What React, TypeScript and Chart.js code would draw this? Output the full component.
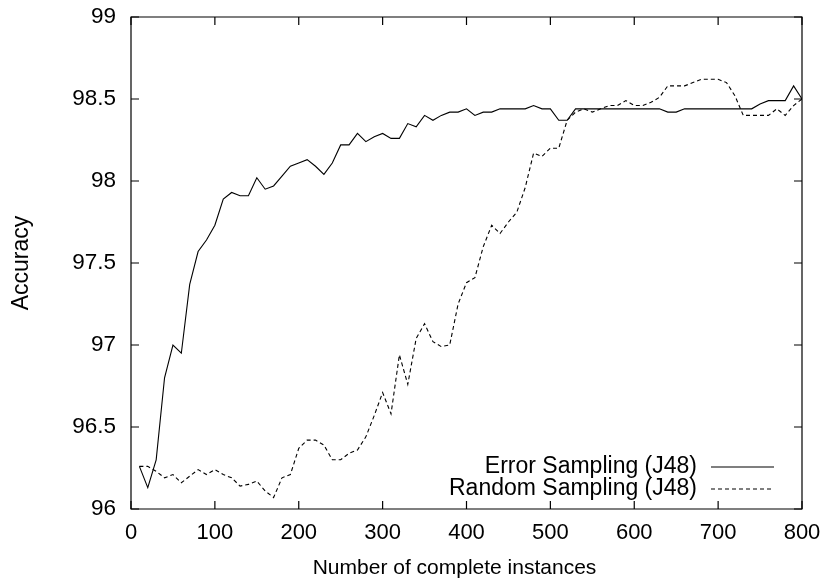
import React, { useEffect, useRef } from "react";
import { Chart, registerables } from "chart.js";

Chart.register(...registerables);

const instances = [
  10, 20, 30, 40, 50, 60, 70, 80, 90, 100,
  110, 120, 130, 140, 150, 160, 170, 180, 190, 200,
  210, 220, 230, 240, 250, 260, 270, 280, 290, 300,
  310, 320, 330, 340, 350, 360, 370, 380, 390, 400,
  410, 420, 430, 440, 450, 460, 470, 480, 490, 500,
  510, 520, 530, 540, 550, 560, 570, 580, 590, 600,
  610, 620, 630, 640, 650, 660, 670, 680, 690, 700,
  710, 720, 730, 740, 750, 760, 770, 780, 790, 800,
];

const errorSampling = [
  96.26, 96.13, 96.30, 96.80, 97.00, 96.95, 97.37, 97.57, 97.64, 97.73,
  97.89, 97.93, 97.91, 97.91, 98.02, 97.95, 97.97, 98.03, 98.09, 98.11,
  98.13, 98.09, 98.04, 98.11, 98.22, 98.22, 98.29, 98.24, 98.27, 98.29,
  98.26, 98.26, 98.35, 98.33, 98.40, 98.37, 98.40, 98.42, 98.42, 98.44,
  98.40, 98.42, 98.42, 98.44, 98.44, 98.44, 98.44, 98.46, 98.44, 98.44,
  98.37, 98.37, 98.44, 98.44, 98.44, 98.44, 98.44, 98.44, 98.44, 98.44,
  98.44, 98.44, 98.44, 98.42, 98.42, 98.44, 98.44, 98.44, 98.44, 98.44,
  98.44, 98.44, 98.44, 98.44, 98.47, 98.49, 98.49, 98.49, 98.58, 98.50,
];

const randomSampling = [
  96.26, 96.26, 96.23, 96.19, 96.21, 96.16, 96.20, 96.24, 96.21, 96.24,
  96.21, 96.19, 96.14, 96.15, 96.17, 96.11, 96.07, 96.19, 96.21, 96.37,
  96.42, 96.42, 96.39, 96.30, 96.30, 96.34, 96.36, 96.44, 96.57, 96.71,
  96.58, 96.94, 96.76, 97.04, 97.13, 97.02, 96.99, 97.00, 97.25, 97.38,
  97.41, 97.60, 97.73, 97.68, 97.75, 97.81, 97.96, 98.17, 98.15, 98.20,
  98.20, 98.37, 98.42, 98.44, 98.42, 98.44, 98.46, 98.46, 98.49, 98.46,
  98.46, 98.48, 98.51, 98.58, 98.58, 98.58, 98.60, 98.62, 98.62, 98.62,
  98.60, 98.52, 98.40, 98.40, 98.40, 98.40, 98.44, 98.40, 98.46, 98.50,
];

const seriesLabels = ["Error Sampling (J48)", "Random Sampling (J48)"];
const xTickValues = [0, 100, 200, 300, 400, 500, 600, 700, 800];
const yTickValues = [96, 96.5, 97, 97.5, 98, 98.5, 99];
const xTitle = "Number of complete instances";
const yTitle = "Accuracy";

const FONT = "'Liberation Sans', Arial, Helvetica, sans-serif";

const framePlugin = {
  id: "gnuplotFrame",
  afterDatasetsDraw(chart: any) {
    const { ctx, chartArea } = chart;
    const { left, right, top, bottom } = chartArea;
    const xs = chart.scales.x;
    const ys = chart.scales.y;
    const tl = 8;
    ctx.save();
    ctx.strokeStyle = "#000";
    ctx.lineWidth = 1.2;
    ctx.setLineDash([]);
    ctx.beginPath();
    ctx.rect(left, top, right - left, bottom - top);
    ctx.stroke();
    ctx.beginPath();
    xs.ticks.forEach((t: any) => {
      const px = xs.getPixelForValue(t.value);
      ctx.moveTo(px, bottom);
      ctx.lineTo(px, bottom - tl);
      ctx.moveTo(px, top);
      ctx.lineTo(px, top + tl);
    });
    ys.ticks.forEach((t: any) => {
      const py = ys.getPixelForValue(t.value);
      ctx.moveTo(left, py);
      ctx.lineTo(left + tl, py);
      ctx.moveTo(right, py);
      ctx.lineTo(right - tl, py);
    });
    ctx.stroke();

    // x axis title
    ctx.font = `21px ${FONT}`;
    ctx.fillStyle = "#000";
    ctx.textAlign = "center";
    ctx.textBaseline = "middle";
    ctx.fillText(xTitle, (left + right) / 2 - 12, bottom + 59);

    // legend (bottom right, inside plot)
    ctx.font = `23px ${FONT}`;
    ctx.textAlign = "right";
    const rows = chart.data.datasets;
    rows.forEach((ds: any, i: number) => {
      const y = bottom - 42 + i * 22;
      ctx.fillStyle = "#000";
      ctx.fillText(ds.label, right - 105, y);
      ctx.beginPath();
      ctx.setLineDash(ds.borderDash || []);
      ctx.lineWidth = ds.borderWidth;
      ctx.strokeStyle = ds.borderColor;
      ctx.moveTo(right - 91, y);
      ctx.lineTo(right - 28, y);
      ctx.stroke();
    });
    ctx.restore();
  },
};

export default function App() {
  const ref = useRef<HTMLCanvasElement | null>(null);

  useEffect(() => {
    if (!ref.current) return;
    const chart = new Chart(ref.current, {
      type: "line",
      data: {
        datasets: [
          {
            label: seriesLabels[0],
            data: instances.map((x, i) => ({ x, y: errorSampling[i] })),
            borderColor: "#000",
            borderWidth: 1.1,
            pointRadius: 0,
            tension: 0,
            fill: false,
          },
          {
            label: seriesLabels[1],
            data: instances.map((x, i) => ({ x, y: randomSampling[i] })),
            borderColor: "#000",
            borderWidth: 1.1,
            borderDash: [4, 3],
            pointRadius: 0,
            tension: 0,
            fill: false,
          },
        ],
      },
      options: {
        animation: false,
        responsive: false,
        devicePixelRatio: 1,
        layout: { padding: { left: 0, top: 17, right: 28, bottom: 0 } },
        plugins: {
          legend: { display: false },
          tooltip: { enabled: false },
        },
        scales: {
          x: {
            type: "linear",
            min: 0,
            max: 800,
            afterFit: (s: any) => {
              s.height = 77;
              s.paddingLeft = 0;
              s.paddingRight = 0;
              s.paddingTop = 0;
              s.paddingBottom = 0;
            },
            afterBuildTicks: (s: any) => {
              s.ticks = xTickValues.map((v) => ({ value: v }));
            },
            grid: { display: false, drawTicks: false },
            border: { display: false },
            ticks: {
              padding: 11,
              color: "#000",
              font: { family: FONT, size: 22 },
              maxRotation: 0,
              callback: (v: any) => String(v),
            },
            title: { display: false },
          },
          y: {
            type: "linear",
            min: 96,
            max: 99,
            afterFit: (s: any) => {
              s.width = 131;
              s.paddingLeft = 0;
              s.paddingRight = 0;
              s.paddingTop = 0;
              s.paddingBottom = 0;
            },
            afterBuildTicks: (s: any) => {
              s.ticks = yTickValues.map((v) => ({ value: v }));
            },
            grid: { display: false, drawTicks: false },
            border: { display: false },
            ticks: {
              padding: 15,
              color: "#000",
              font: { family: FONT, size: 22.5 },
              callback: (v: any) => String(v),
            },
            title: {
              display: true,
              text: yTitle,
              color: "#000",
              font: { family: FONT, size: 23 },
              padding: { top: 7.5, bottom: 0 },
            },
          },
        },
      },
      plugins: [framePlugin],
    });
    return () => chart.destroy();
  }, []);

  return (
    <div
      style={{
        position: "absolute",
        left: 0,
        top: 0,
        width: 830,
        height: 586,
        background: "#fff",
      }}
    >
      <canvas ref={ref} width={830} height={586} />
    </div>
  );
}
